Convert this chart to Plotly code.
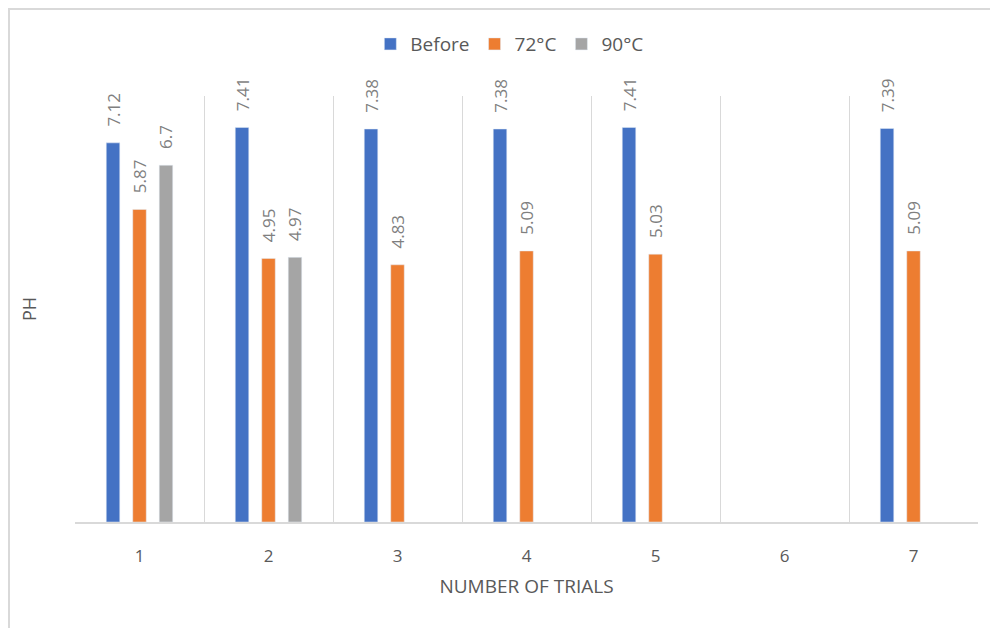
import plotly.graph_objects as go

categories = ["1", "2", "3", "4", "5", "6", "7"]
before = [7.12, 7.41, 7.38, 7.38, 7.41, None, 7.39]
c72 = [5.87, 4.95, 4.83, 5.09, 5.03, None, 5.09]
c90 = [6.7, 4.97, None, None, None, None, None]

series = [("Before", before, "#4472C4"), ("72°C", c72, "#ED7D31"), ("90°C", c90, "#A5A5A5")]

FONT = "Open Sans"
TXT = "#595959"
LBL = "#7F7F7F"
PAD = "\u00a0\u00a0\u00a0"  # gap between bar top and its rotated label

fig = go.Figure()
for name, vals, col in series:
    fig.add_trace(go.Bar(
        x=categories, y=vals, name=name, marker_color=col,
        text=[("" if v is None else PAD + f"{v:g}") for v in vals],
        textposition="outside", textangle=-90, constraintext="none",
        textfont=dict(family=FONT, size=17, color=LBL),
        cliponaxis=False,
    ))

fig.update_layout(
    width=998, height=628,
    margin=dict(l=67, r=28, t=88, b=114),
    paper_bgcolor="white", plot_bgcolor="white",
    barmode="group", bargap=0.384, bargroupgap=0.49,
    font=dict(family=FONT, color=TXT),
    legend=dict(orientation="h", x=0.481, y=1.122, xanchor="center", yanchor="middle",
                font=dict(family=FONT, size=19, color=TXT), itemwidth=30,
                traceorder="normal"),
    xaxis=dict(
        title=dict(text="NUMBER OF TRIALS", font=dict(family=FONT, size=19, color=TXT), standoff=14),
        tickson="boundaries", showgrid=True, gridcolor="#D9D9D9", gridwidth=1,
        ticks="", tickfont=dict(family=FONT, size=17, color=TXT), ticklabelstandoff=18,
        showline=True, linecolor="#D9D9D9", linewidth=1.5,
    ),
    yaxis=dict(
        title=dict(text="PH", font=dict(family=FONT, size=18, color=TXT), standoff=32),
        range=[0, 8], showgrid=False, showticklabels=False, zeroline=False, ticks="",
    ),
    shapes=[dict(type="rect", xref="paper", yref="paper",
                 x0=-0.0731, x1=1.2, y0=-0.6, y1=1.204,
                 line=dict(color="#D9D9D9", width=2), fillcolor="rgba(0,0,0,0)", layer="below")],
)

fig.write_html("out.html")
